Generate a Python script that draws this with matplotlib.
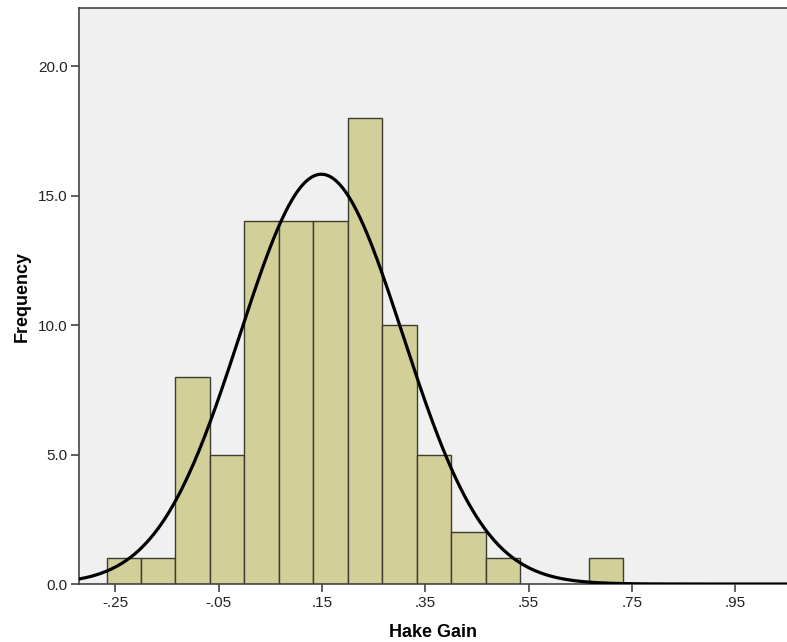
import matplotlib.pyplot as plt
import numpy as np

plt.rcParams['font.family'] = ['Liberation Sans', 'DejaVu Sans']

# histogram bins (width 1/15) and counts
bin_width = 1 / 15
bin_start = -4 / 15
counts = [1, 1, 8, 5, 14, 14, 14, 18, 10, 5, 2, 1, 0, 0, 1]
# fitted normal curve
mean_gain = 0.149
sd_gain = 0.158
n_total = sum(counts)

x_ticks = [-0.25, -0.05, 0.15, 0.35, 0.55, 0.75, 0.95]
x_labels = ['-.25', '-.05', '.15', '.35', '.55', '.75', '.95']
y_ticks = [0, 5, 10, 15, 20]
y_labels = ['0.0', '5.0', '10.0', '15.0', '20.0']

fig = plt.figure(figsize=(7.87, 6.42), dpi=100)
ax = fig.add_axes([0.101, 0.0903, 0.899, 0.8972])
ax.set_facecolor('#f0f0f0')

lefts = bin_start + np.arange(len(counts)) * bin_width
for l, c in zip(lefts, counts):
    if c > 0:
        ax.bar(l, c, width=bin_width, align='edge', color='#d3cf98',
               edgecolor='#3c3c30', linewidth=1.0, zorder=2)

xs = np.linspace(-0.4, 1.1, 600)
ys = n_total * bin_width / (sd_gain * np.sqrt(2 * np.pi)) * np.exp(-(xs - mean_gain) ** 2 / (2 * sd_gain ** 2))
ax.plot(xs, ys, color='black', linewidth=2.3, zorder=3)

ax.set_xlim(-0.319, 1.05)
ax.set_ylim(0, 22.24)
ax.set_xticks(x_ticks)
ax.set_xticklabels(x_labels)
ax.set_yticks(y_ticks)
ax.set_yticklabels(y_labels)
ax.tick_params(axis='both', direction='out', length=6, width=1.2, color='#444444',
               labelsize=11, labelcolor='#222222', pad=2.5)

for s in ['left', 'top', 'bottom']:
    ax.spines[s].set_color('#444444')
    ax.spines[s].set_linewidth(1.2)
ax.spines['right'].set_visible(False)

ax.set_xlabel('Hake Gain', fontsize=13, fontweight='bold', labelpad=10)
ax.set_ylabel('Frequency', fontsize=13, fontweight='bold', labelpad=5)

fig.savefig('out.png', dpi=100)
